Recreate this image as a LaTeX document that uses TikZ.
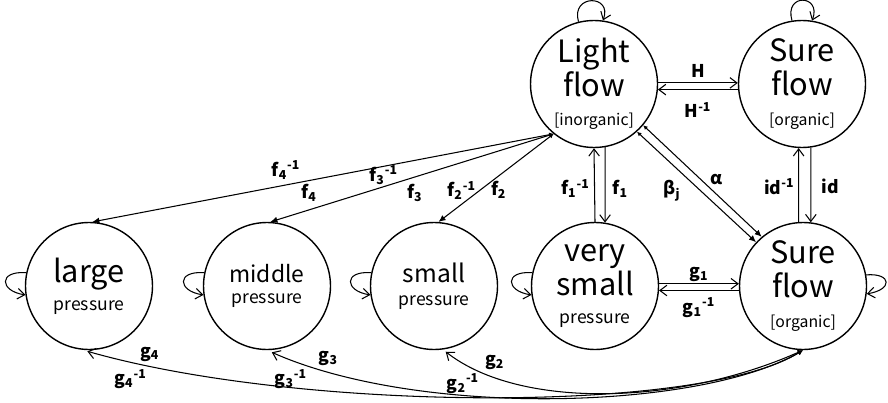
\documentclass[tikz,border=0pt]{standalone}
\usepackage{fontspec}
\setmainfont{Noto Sans CJK JP}
\usetikzlibrary{arrows.meta}

\begin{document}
\begin{tikzpicture}[x=0.02cm,y=-0.02cm,
  state/.style={draw,circle,line width=0.8pt,minimum size=2.54cm,inner sep=0pt,align=center,font=\fontsize{17.5}{19}\selectfont},
  lbl/.style={font=\fontsize{10}{10}\selectfont\bfseries,inner sep=1pt},
  bar/.style={line width=0.6pt,-{Straight Barb[length=4pt,width=6pt]}},
  dual/.style={line width=0.6pt,{Latex[length=2.5pt,width=2.5pt]}-{Latex[length=4pt,width=3.5pt]}},
  gcurve/.style={line width=0.6pt,{Latex[length=3pt,width=3pt]}-{Straight Barb[length=4pt,width=6pt]}}]
  \useasboundingbox (0,0) rectangle (888,402);

  % flow states
  \node[state] (light) at (594,84) {Light\\flow\\[-2pt]{\fontsize{9}{10}\selectfont [inorganic]}};
  \node[state] (sureT) at (802,84) {Sure\\flow\\[-2pt]{\fontsize{9}{10}\selectfont [organic]}};
  \node[state] (sureB) at (803,286) {Sure\\flow\\[-2pt]{\fontsize{9}{10}\selectfont [organic]}};

  % pressure states
  \node[state] (large) at (89,286) {large\\[-3pt]{\fontsize{10}{12}\selectfont pressure}};
  \node[state,font=\fontsize{13}{15}\selectfont] (middle) at (267,286) {middle\\[-3pt]{\fontsize{10}{12}\selectfont pressure}};
  \node[state,font=\fontsize{14}{16}\selectfont] (small) at (434,286) {small\\[-3pt]{\fontsize{10}{12}\selectfont pressure}};
  \node[state] (vsmall) at (595,286) {very\\small\\[-3pt]{\fontsize{10}{12}\selectfont pressure}};

  % self loops
  \draw[bar] (light.104) .. controls +(-8,-28) and +(10,-26) .. (light.82);
  \draw[bar] (sureT.99) .. controls +(-8,-28) and +(10,-26) .. (sureT.81);
  \draw[bar] (large.168) .. controls +(-28,-2) and +(-26,-4) .. (large.188);
  \draw[bar] (middle.168) .. controls +(-28,-2) and +(-26,-4) .. (middle.188);
  \draw[bar] (small.168) .. controls +(-28,-2) and +(-26,-4) .. (small.188);
  \draw[bar] (vsmall.168) .. controls +(-28,-2) and +(-26,-4) .. (vsmall.188);
  \draw[bar] (sureB.10) .. controls +(26,-2) and +(26,-4) .. (sureB.-7);

  % H
  \draw[bar] (light.1) -- node[lbl,above=1.5pt] {H} (sureT.179);
  \draw[bar] (sureT.-175) -- node[lbl,below=6pt] {H\textsuperscript{-1}} (light.-5);

  % f_k
  \draw[dual] (light.-129) -- node[lbl,pos=0.58,above=2pt] {f\textsubscript{4}\textsuperscript{-1}} node[lbl,pos=0.53,below=1pt] {f\textsubscript{4}} (large.87);
  \draw[dual] (light.-129) -- node[lbl,pos=0.6,above=0pt] {f\textsubscript{3}\textsuperscript{-1}} node[lbl,pos=0.49,below=3pt] {f\textsubscript{3}} (middle.87);
  \draw[dual] (light.-129) -- node[lbl,pos=0.64,left=1pt] {f\textsubscript{2}\textsuperscript{-1}} node[lbl,pos=0.64,right=5pt] {f\textsubscript{2}} (small.86);
  \draw[bar] (vsmall.90) -- node[lbl,pos=0.45,left=1.5pt] {f\textsubscript{1}\textsuperscript{-1}} (light.-90);
  \draw[bar] (light.-80) -- node[lbl,pos=0.55,right=3pt] {f\textsubscript{1}} (vsmall.81);

  % alpha, beta
  \draw[dual] (light.-40) -- node[lbl,pos=0.55,above right=0pt] {α} (sureB.130);
  \draw[dual] (light.-48) -- node[lbl,pos=0.4,below left=1pt] {β\textsubscript{j}} (sureB.137);

  % id
  \draw[bar] (sureB.94) -- node[lbl,pos=0.48,left=1pt] {id\textsuperscript{-1}} (sureT.-93);
  \draw[bar] (sureT.-82) -- node[lbl,pos=0.52,right=5pt] {id} (sureB.83);

  % g_k
  \draw[bar] (vsmall.2) -- node[lbl,above=0pt] {g\textsubscript{1}} (sureB.178);
  \draw[bar] (sureB.-176) -- node[lbl,below=3pt] {g\textsubscript{1}\textsuperscript{-1}} (vsmall.-4);
  \draw[gcurve,shorten >=2pt] (sureB.-90) .. controls (680,405) and (520,410) .. node[lbl,pos=0.85,above right=0pt] {g\textsubscript{2}} node[lbl,pos=0.92,below=5pt] {g\textsubscript{2}\textsuperscript{-1}} (small.-82);
  \draw[gcurve,shorten >=3pt] (sureB.-90) .. controls (700,410) and (420,418) .. node[lbl,pos=0.9,above right=0pt] {g\textsubscript{3}} node[lbl,pos=0.95,below=4pt] {g\textsubscript{3}\textsuperscript{-1}} (middle.-90);
  \draw[gcurve,shorten >=3pt] (sureB.-90) .. controls (700,414) and (300,412) .. node[lbl,pos=0.92,above right=0pt] {g\textsubscript{4}} node[lbl,pos=0.93,below=3pt] {g\textsubscript{4}\textsuperscript{-1}} (large.-96);
\end{tikzpicture}
\end{document}
